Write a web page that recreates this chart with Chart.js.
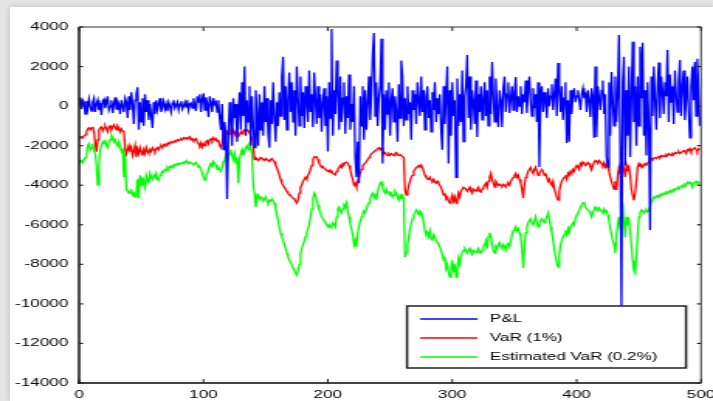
<!DOCTYPE html>
<html>
<head>
<meta charset="utf-8">
<script src="https://cdn.jsdelivr.net/npm/chart.js@4.4.1/dist/chart.umd.min.js"></script>
<style>
  html, body { margin: 0; padding: 0; width: 713px; height: 401px; overflow: hidden; background: #e4e4e4; }
  #card { position: absolute; left: 10px; top: 7px; width: 703px; height: 394px; background: #fff;
          box-shadow: 0 0 6px rgba(0,0,0,0.18); }
  /* the figure is drawn narrow and widened horizontally */
  #wrap { position: absolute; left: 0; top: 0; width: 460px; height: 401px;
          transform: scaleX(1.55); transform-origin: 0 0; }
</style>
</head>
<body>
<div id="card"></div>
<div id="wrap"><canvas id="c" width="460" height="401"></canvas></div>
<script>
// Daily profit & loss
const pnl = [
  100, 450, -150, 300, 200, -400, 250, -100, 350, 0,
  -250, 200, 400, -300, 100, 300, -200, 150, -450, 250,
  350, -100, 200, 500, -200, 0, 300, -350, 100, 450,
  -150, 250, 100, -400, 300, 0, -300, 400, 200, -600,
  500, -200, 700, 100, -900, 300, 600, 950, -1200, 200,
  -800, 400, -1000, 600, -300, 300, -700, 100, -500, -1100,
  200, -400, 300, -200, 100, 400, -300, 0, 250, -150,
  100, -250, 200, 0, -300, 150, 300, -100, 50, 200,
  -200, 100, 250, -150, 0, 200, -50, 300, -200, 100,
  150, -100, 400, 50, -250, 500, 200, 600, -300, 350,
  650, -200, 450, 100, -550, 500, 200, -300, 400, 100,
  200, -300, 300, -600, -1200, 100, -2200, -800, -1500, -4700,
  -1500, 200, -800, -2000, 400, -600, 100, -1800, -300, 700,
  -1200, 1200, -500, 2000, -1500, 300, -800, 1000, -2000, 500,
  -1000, -2100, 800, -400, -2000, 600, -1200, 200, -1500, 1000,
  -800, 400, -1400, -2100, 300, -900, 1200, -600, -1800, 200,
  -1000, 700, -500, 1500, 2500, -700, 1000, -1200, 300, 1700,
  -300, 1200, -800, 800, -1500, 2000, 400, -1000, 1500, -500,
  700, -1100, 1000, 200, -800, 1800, -300, 600, -1050, 1700,
  300, -900, 1000, -600, 600, -1300, 200, 900, -1000, 500,
  -2300, 1200, -600, 3900, -1500, 800, -400, 2300, 700, -1200,
  1500, -800, 400, 1200, -1400, 500, -600, 1600, -1200, 100,
  -800, 1000, -2600, -3600, -1800, -3900, 500, -1000, 1000, -1700,
  800, -1200, 200, 1500, -700, 600, 2600, 3700, -500, 1200,
  -1000, 400, 1000, 3400, -2900, 600, -1200, 800, -400, 1200,
  -1500, 300, 900, -800, 500, -300, -1800, 1100, -600, 2300,
  1500, -1000, 400, -700, 1000, -400, 200, -1700, 800, -200,
  600, -900, 1200, 300, -500, 1500, -300, 800, -1200, 500,
  1000, -600, 300, -1300, 700, -200, 1200, -800, 400, -400,
  600, -1200, -2200, 1000, -900, 500, 2000, -2900, 800, -1500,
  1200, -500, 300, -3600, 1400, -1000, 600, -800, 1800, -1800,
  500, 1000, 2580, -600, 1500, -1200, 800, 200, -900, 1300,
  -1560, 600, -300, 1000, -700, 400, 1200, -500, 800, -1000,
  1500, -400, 2230, 600, -800, 1400, -200, -1060, 800, 300,
  -1050, 900, 1500, -300, 600, 1200, -350, 400, 1000, -200,
  700, 1470, -300, 500, 0, 1000, -400, 600, 200, 1300,
  -350, 800, 1500, 200, -500, 900, -100, 600, -800, 1200,
  -3080, 400, 1000, -300, 700, 200, -600, 900, 0, 500,
  1100, -200, 600, 1400, -500, 2180, 800, -300, 1000, -700,
  400, 1200, -1870, 300, -1800, 800, -400, 600, 900, 200,
  500, 800, 300, -200, 600, 900, 400, 700, -300, 800,
  300, -550, 900, 500, -1600, 2000, -1560, 1000, 400, -200,
  800, 1300, -400, 600, -2570, -3080, 1200, -1500, 1730, 300,
  -1000, 1500, -800, 600, 3600, -2000, -10160, 1200, 2500, -3000,
  800, -1500, 2000, -2570, 500, 3250, -800, 1000, -2000, 1500,
  -1000, 3000, 400, 3200, -1500, 800, -2500, 1200, -1000, -6260,
  1500, -500, 2000, 300, -1200, 1000, 2200, -600, 1500, 800,
  -400, 1200, 500, 2840, -800, 1600, 200, 1000, -900, 1800,
  600, -300, 1200, 2330, -500, 1000, 1800, -700, 400, 1500,
  -200, -1600, 1000, 2000, 300, 2230, -500, 2400, 800, -1000
];

// Value at Risk, 1% level
const var1 = [
  -1560, -1600, -1550, -1600, -1500, -1450, -1300, -1150, -1100, -1200,
  -1100, -1050, -1300, -1900, -2300, -1700, -1200, -1100, -1050, -1250,
  -1100, -1000, -1150, -1300, -1050, -1000, -1200, -1100, -950, -1050,
  -1200, -1000, -1100, -1300, -1150, -1250, -1300, -2100, -2400, -2200,
  -2000, -2300, -2100, -2500, -2300, -2000, -2570, -2200, -2400, -2100,
  -2300, -2500, -2200, -2400, -2100, -2300, -2400, -2200, -2300, -2100,
  -2200, -2300, -2150, -2100, -2200, -2050, -2000, -2100, -1950, -2000,
  -1900, -1950, -1850, -1900, -1800, -1850, -1800, -1750, -1800, -1700,
  -1750, -1700, -1650, -1700, -1600, -1650, -1600, -1650, -1600, -1550,
  -1700, -1650, -1750, -1700, -1650, -1800, -1900, -2000, -1850, -2070,
  -1900, -2000, -1800, -1750, -1900, -1700, -1650, -1750, -1600, -1700,
  -1650, -1800, -1700, -2000, -2100, -1900, -1500, -1600, -1400, -1300,
  -1500, -1400, -1250, -1350, -1200, -1450, -1300, -1400, -1550, -1450,
  -1300, -1400, -1250, -1200, -1300, -1200, -1250, -1350, -1500, -1600,
  -2000, -2700, -2600, -2650, -2750, -2700, -2600, -2650, -2700, -2750,
  -2650, -2700, -2750, -2800, -2700, -2650, -2750, -2800, -3000, -3100,
  -3300, -3500, -3700, -3900, -4000, -4100, -4200, -4300, -4400, -4500,
  -4500, -4600, -4650, -4700, -4800, -4900, -4750, -4400, -4100, -4000,
  -3800, -3700, -3600, -3700, -3500, -3400, -3200, -3000, -2700, -2570,
  -2600, -2570, -2700, -2900, -3000, -3100, -3050, -3150, -3200, -3250,
  -3300, -3250, -3350, -3300, -3400, -3450, -3480, -3300, -3200, -3100,
  -3000, -3100, -2900, -2950, -2850, -2830, -2900, -3000, -3200, -3500,
  -3700, -3990, -3900, -4090, -3800, -3600, -3400, -3200, -3000, -2950,
  -2880, -2800, -2700, -2600, -2500, -2400, -2370, -2300, -2250, -2200,
  -2150, -2100, -2200, -2120, -2300, -2400, -2350, -2450, -2500, -2400,
  -2470, -2400, -2450, -2500, -2400, -2350, -2450, -2500, -2450, -2500,
  -2550, -2600, -4240, -4500, -4300, -4000, -3800, -3600, -3500, -3300,
  -3200, -3100, -3080, -3000, -3050, -2980, -3100, -3300, -3500, -3600,
  -3650, -3700, -3600, -3750, -3800, -3700, -3850, -3890, -3800, -3900,
  -4000, -4100, -4300, -4500, -4400, -4700, -4600, -4800, -4900, -4700,
  -4500, -4800, -4600, -4900, -4700, -4400, -4600, -4300, -4200, -4100,
  -4100, -4200, -4300, -4200, -4100, -4300, -4400, -4200, -4250, -4300,
  -4200, -4100, -4300, -4350, -4200, -4100, -4000, -3900, -4100, -3800,
  -3600, -3400, -3700, -3900, -4090, -3800, -3900, -4000, -3950, -4000,
  -4050, -3950, -4000, -4090, -3950, -3900, -4000, -3800, -3700, -3600,
  -3500, -3400, -3600, -3500, -3700, -3900, -4200, -4650, -4000, -3600,
  -3500, -3300, -3200, -3100, -3300, -3400, -3200, -3080, -3300, -3500,
  -3400, -3300, -3200, -3300, -3500, -3400, -3600, -3800, -3700, -3900,
  -4000, -3800, -4200, -4400, -4600, -4750, -4300, -4000, -3800, -3700,
  -3600, -3500, -3700, -3400, -3500, -3300, -3400, -3200, -3300, -3100,
  -3000, -3100, -3200, -2900, -3000, -2830, -2900, -3000, -2950, -2850,
  -2900, -3100, -3230, -3000, -2850, -2750, -2800, -2900, -2750, -2800,
  -2900, -3000, -2850, -3080, -2950, -3100, -3300, -3600, -3800, -4000,
  -4200, -3800, -4240, -3500, -3100, -3400, -3000, -2900, -3200, -3580,
  -3000, -3300, -3100, -3500, -4200, -4500, -4750, -4400, -3800, -3100,
  -2900, -3000, -2950, -3080, -3000, -2900, -2950, -2900, -2800, -2700,
  -2650, -2700, -2620, -2600, -2650, -2600, -2550, -2600, -2500, -2550,
  -2500, -2550, -2450, -2500, -2400, -2450, -2500, -2400, -2450, -2350,
  -2400, -2350, -2300, -2400, -2350, -2300, -2250, -2300, -2400, -2200,
  -2250, -2150, -2300, -2200, -2150, -2100, -2200, -2300, -2150, -2200
];

// Estimated Value at Risk, 0.2% level
const var02 = [
  -2720, -2800, -2750, -2850, -2700, -2600, -2400, -2000, -1900, -2200,
  -2100, -1900, -2300, -2400, -3000, -3990, -3000, -2200, -2000, -1800,
  -1900, -1700, -2000, -2100, -1800, -1700, -1460, -1600, -1800, -1700,
  -1900, -2000, -1800, -2100, -2300, -2200, -3600, -2400, -4240, -4300,
  -4400, -4300, -4240, -4500, -4400, -4600, -4400, -3700, -4650, -3500,
  -4000, -3600, -3800, -4100, -3500, -3700, -3900, -3400, -3600, -3700,
  -3500, -3600, -3400, -3700, -3740, -3500, -3400, -3300, -3350, -3200,
  -3250, -3100, -3200, -3050, -3100, -3000, -3050, -2950, -3000, -2900,
  -2950, -2880, -2900, -2850, -2900, -2800, -2850, -2800, -2900, -2830,
  -2850, -2900, -2950, -2900, -2850, -3000, -3100, -3080, -3200, -3400,
  -3600, -3740, -3500, -3400, -3200, -3000, -2900, -3100, -2800, -2900,
  -3000, -3200, -3100, -3230, -3300, -3100, -2800, -2700, -2500, -2300,
  -2600, -2400, -2200, -2500, -2700, -2400, -2880, -2600, -3900, -2700,
  -2400, -2200, -2500, -2300, -2100, -2000, -2200, -1970, -2100, -2400,
  -4000, -4400, -5100, -4600, -4500, -4700, -4600, -4650, -4800, -4700,
  -4600, -4800, -4900, -4750, -4800, -4700, -4800, -4900, -5200, -5500,
  -5800, -6100, -6400, -6600, -6800, -7000, -7200, -7430, -7600, -7800,
  -7900, -8000, -8200, -8290, -8440, -8540, -8300, -8000, -7500, -7200,
  -7000, -6800, -6600, -6400, -6200, -6000, -5600, -5200, -4700, -4400,
  -4500, -4750, -5000, -5250, -5400, -5600, -5700, -5800, -5900, -6000,
  -6100, -6000, -6160, -6050, -5900, -6000, -6110, -5600, -5200, -5100,
  -5300, -5400, -5200, -5000, -5100, -4900, -5300, -5600, -5950, -6200,
  -6500, -7020, -6800, -7120, -6400, -6100, -5800, -5600, -5400, -5300,
  -5400, -5200, -5000, -4900, -4700, -4500, -4400, -4600, -4500, -4750,
  -4300, -4100, -3900, -3840, -4100, -4300, -4400, -4200, -4400, -4300,
  -4500, -4400, -4600, -4500, -4300, -4400, -4600, -4750, -4500, -4600,
  -4500, -4700, -7630, -7400, -7000, -6600, -6200, -5900, -5700, -5500,
  -5400, -5250, -5350, -5500, -5300, -5350, -5600, -5900, -6300, -6500,
  -6400, -6600, -6300, -6700, -6770, -6500, -6600, -6800, -6900, -7000,
  -7100, -7300, -7500, -7800, -7600, -8200, -8000, -8400, -8640, -8200,
  -7800, -8400, -8000, -8640, -8200, -7700, -8000, -7600, -7400, -7300,
  -7200, -7300, -7430, -7300, -7200, -7400, -7500, -7300, -7350, -7400,
  -7300, -7200, -7400, -7430, -7300, -7100, -7000, -6800, -7200, -6600,
  -6400, -6600, -7000, -7300, -7430, -7100, -7200, -7000, -6900, -7100,
  -7200, -7000, -7100, -7280, -7000, -6900, -7100, -6800, -6500, -6300,
  -6200, -6100, -6300, -6200, -6400, -6600, -7200, -8190, -7200, -6400,
  -6100, -5900, -5800, -5700, -5900, -6000, -5800, -5600, -5900, -6100,
  -5900, -5800, -5700, -5800, -5900, -5700, -5600, -5400, -5700, -6100,
  -6400, -6800, -7200, -7630, -7900, -8140, -7500, -7000, -6800, -6600,
  -6500, -6300, -6500, -6200, -6400, -6100, -6000, -5900, -6000, -5700,
  -5500, -5400, -5300, -5100, -5000, -4900, -4850, -5100, -5200, -5250,
  -5300, -5400, -5600, -5400, -5250, -5100, -5200, -5300, -5150, -5250,
  -5300, -5400, -5200, -5350, -5300, -5500, -5800, -6200, -6500, -6800,
  -7000, -7430, -6500, -6000, -5600, -6200, -5500, -4900, -5800, -6620,
  -5600, -6000, -5800, -6300, -7000, -7800, -8290, -8440, -7600, -6500,
  -5600, -5400, -5250, -5300, -5400, -5300, -5250, -5350, -5300, -5100,
  -4800, -4700, -4600, -4650, -4550, -4600, -4500, -4550, -4450, -4500,
  -4400, -4450, -4350, -4400, -4300, -4350, -4250, -4300, -4200, -4250,
  -4150, -4200, -4100, -4150, -4050, -4000, -4100, -3950, -4000, -3850,
  -3900, -3840, -3950, -4100, -3900, -3850, -3800, -3900, -3850, -3900
];

const seriesNames = ['P&L', 'VaR (1%)', 'Estimated VaR (0.2%)'];
const seriesColors = ['#0000ff', '#ff0000', '#00ff00'];
const xTicks = [0, 100, 200, 300, 400, 500];
const yTicks = [-14000, -12000, -10000, -8000, -6000, -4000, -2000, 0, 2000, 4000];

const toPoints = arr => arr.map((v, i) => ({ x: i, y: v }));

Chart.defaults.font.family = '"Liberation Sans", Arial, sans-serif';
Chart.defaults.font.size = 11;
Chart.defaults.color = '#000';

// plot frame with inward tick marks
const framePlugin = {
  id: 'frame',
  afterDatasetsDraw(chart) {
    const { ctx, chartArea: a, scales } = chart;
    ctx.save();
    ctx.lineCap = 'butt';
    ctx.strokeStyle = '#777'; ctx.lineWidth = 1.5;
    ctx.beginPath(); ctx.moveTo(a.left, a.top); ctx.lineTo(a.right, a.top); ctx.stroke();
    ctx.strokeStyle = '#555'; ctx.lineWidth = 1.2;
    ctx.beginPath(); ctx.moveTo(a.right, a.top); ctx.lineTo(a.right, a.bottom); ctx.stroke();
    ctx.strokeStyle = '#444'; ctx.lineWidth = 2;
    ctx.beginPath(); ctx.moveTo(a.left - 1, a.bottom); ctx.lineTo(a.right, a.bottom); ctx.stroke();
    ctx.strokeStyle = '#111'; ctx.lineWidth = 1.5;
    ctx.beginPath(); ctx.moveTo(a.left, a.top); ctx.lineTo(a.left, a.bottom + 1); ctx.stroke();
    ctx.strokeStyle = '#222'; ctx.lineWidth = 1;
    xTicks.forEach(t => {
      const px = scales.x.getPixelForValue(t);
      ctx.beginPath(); ctx.moveTo(px, a.bottom); ctx.lineTo(px, a.bottom - 4); ctx.stroke();
      ctx.beginPath(); ctx.moveTo(px, a.top); ctx.lineTo(px, a.top + 4); ctx.stroke();
    });
    ctx.lineWidth = 1.2;
    yTicks.forEach(t => {
      const py = scales.y.getPixelForValue(t);
      ctx.beginPath(); ctx.moveTo(a.left, py); ctx.lineTo(a.left + 2.6, py); ctx.stroke();
      ctx.beginPath(); ctx.moveTo(a.right, py); ctx.lineTo(a.right - 2.6, py); ctx.stroke();
    });
    ctx.restore();
  }
};

// boxed legend in the lower right of the plot
const boxLegend = {
  id: 'boxLegend',
  afterDraw(chart) {
    const { ctx } = chart;
    const bx = 262.6, by = 306, bw = 180, bh = 62;
    ctx.save();
    ctx.fillStyle = '#fff';
    ctx.fillRect(bx, by, bw, bh);
    ctx.strokeStyle = '#222'; ctx.lineWidth = 1.5;
    ctx.strokeRect(bx, by, bw, bh);
    ctx.font = '11px "Liberation Sans", Arial, sans-serif';
    ctx.textBaseline = 'middle';
    chart.data.datasets.forEach((ds, i) => {
      const y = 319 + i * 19;
      ctx.strokeStyle = ds.borderColor; ctx.lineWidth = 1.3;
      ctx.beginPath(); ctx.moveTo(bx + 8.5, y); ctx.lineTo(bx + 45.5, y); ctx.stroke();
      ctx.fillStyle = '#000';
      ctx.fillText(ds.label, bx + 53.5, y);
    });
    ctx.restore();
  }
};

new Chart(document.getElementById('c'), {
  type: 'line',
  data: {
    datasets: [
      { label: seriesNames[0], data: toPoints(pnl), borderColor: seriesColors[0] },
      { label: seriesNames[1], data: toPoints(var1), borderColor: seriesColors[1] },
      { label: seriesNames[2], data: toPoints(var02), borderColor: seriesColors[2] }
    ]
  },
  options: {
    responsive: false,
    animation: false,
    devicePixelRatio: 1,
    layout: { padding: { left: 0, right: 7.7, top: 27, bottom: 0 } },
    elements: {
      point: { radius: 0 },
      line: { borderWidth: 1.3, tension: 0, fill: false }
    },
    plugins: { legend: { display: false }, tooltip: { enabled: false } },
    scales: {
      x: {
        type: 'linear', min: 0, max: 500,
        grid: { display: false, drawTicks: false },
        border: { display: false },
        ticks: { stepSize: 100, padding: 5, maxRotation: 0, callback: v => String(v) },
        afterFit(s) { s.height = 18; s.paddingLeft = 0; s.paddingRight = 0; }
      },
      y: {
        type: 'linear', min: -14000, max: 4000,
        grid: { display: false, drawTicks: false },
        border: { display: false },
        ticks: { stepSize: 2000, padding: 7, callback: v => String(v) },
        afterFit(s) { s.width = 51; s.paddingTop = 0; s.paddingBottom = 0; }
      }
    }
  },
  plugins: [framePlugin, boxLegend]
});
</script>
</body>
</html>
